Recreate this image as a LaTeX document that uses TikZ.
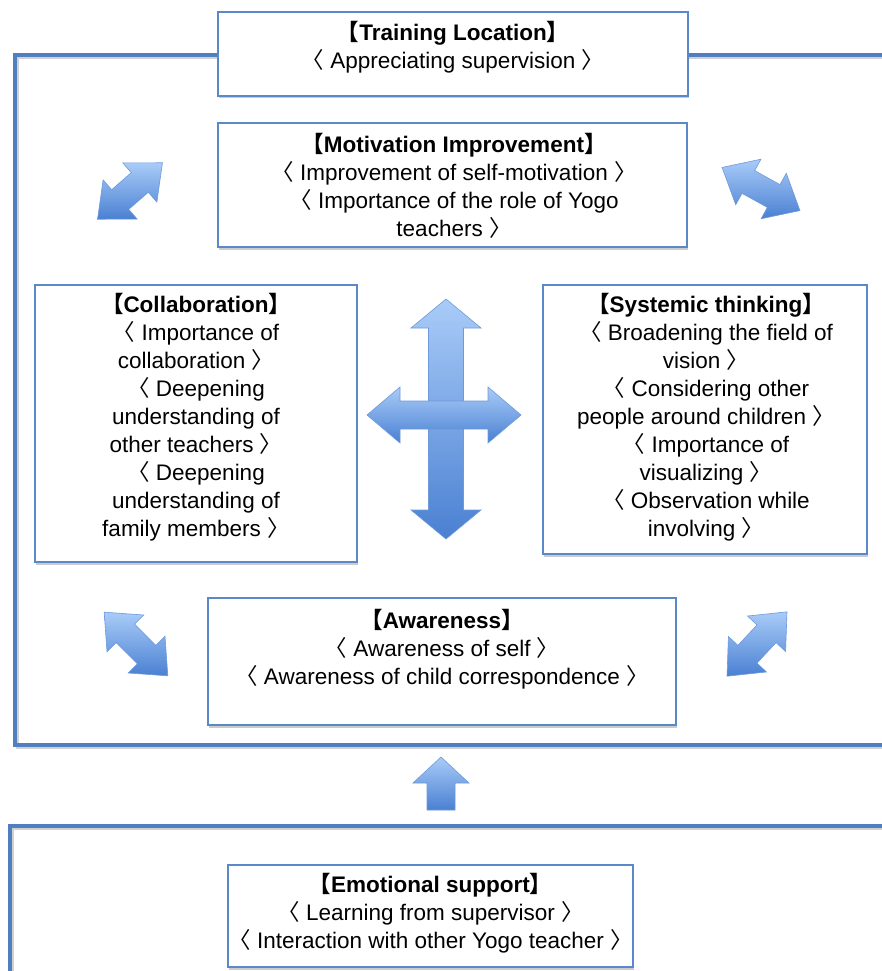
\documentclass[tikz,border=0pt]{standalone}
\usepackage{fontspec}
\setmainfont{Liberation Sans}
\newfontfamily\cjk{Noto Sans CJK SC}
\usetikzlibrary{shadows}
\definecolor{eblue}{HTML}{4F7FC0}
\definecolor{boxblue}{HTML}{5A88C8}
\definecolor{arrlight}{HTML}{A9CCF8}
\definecolor{arrdark}{HTML}{4A80D2}
\newcommand{\lb}{{\cjk 【}}
\newcommand{\rb}{{\cjk 】}}
\newcommand{\la}{{\cjk 〈}}
\newcommand{\ra}{{\cjk 〉}}
\tikzset{eframe/.style={line width=3.5pt,eblue},
  eshadow/.style={line width=3pt,black!18},
  ebox/.style={draw=boxblue,line width=1.2pt,fill=white,
    drop shadow={shadow xshift=1pt,shadow yshift=-2.5pt,fill=black!40,opacity=0.5}},
  etext/.style={align=center,inner sep=0pt,font=\fontsize{22.5}{28}\selectfont},
  earrow/.style={draw=arrdark!80,line width=0.6pt,top color=arrlight,bottom color=arrdark}}
% center, angle, length, head width, shaft width, head length
\newcommand{\darrow}[6]{%
  \begin{scope}[shift={#1},rotate=#2]
    \shade[earrow] ({-#3/2},0) -- ({-#3/2+#6},{#4/2}) -- ({-#3/2+#6},{#5/2})
      -- ({#3/2-#6},{#5/2}) -- ({#3/2-#6},{#4/2}) -- ({#3/2},0)
      -- ({#3/2-#6},{-#4/2}) -- ({#3/2-#6},{-#5/2}) -- ({-#3/2+#6},{-#5/2})
      -- ({-#3/2+#6},{-#4/2}) -- cycle;
  \end{scope}}

\begin{document}
\begin{tikzpicture}[x=1pt,y=-1pt]
    \useasboundingbox[fill=white] (0,0) rectangle (882,971);
    % frames
    \draw[eshadow] (882,57.5) -- (17.5,57.5) -- (17.5,747.5) -- (882,747.5);
    \draw[eframe,line join=miter] (882,55) -- (15,55) -- (15,745) -- (882,745);
    \draw[eshadow] (882,828.5) -- (12.5,828.5) -- (12.5,971);
    \draw[eframe,line join=miter] (882,826) -- (10,826) -- (10,971);
    % boxes
    \node[ebox,minimum width=470pt,minimum height=84pt] (train) at (453,54) {};
    \node[etext] (traintxt) at (453,47) {\textbf{\lb Training Location\rb}\\ \la\ Appreciating supervision \ra};
    \node[ebox,minimum width=469pt,minimum height=124pt] (motiv) at (452.5,185) {};
    \node[etext] (motivtxt) at (454,186) {\textbf{\lb Motivation Improvement\rb}\\ \la\ Improvement of self-motivation \ra\\ \la\ Importance of the role of Yogo\\ teachers \ra};
    \node[ebox,minimum width=322pt,minimum height=277pt] (collab) at (196,423.5) {};
    \node[etext] (collabtxt) at (196,417) {\textbf{\lb Collaboration\rb}\\ \la\ Importance of\\ collaboration \ra\\ \la\ Deepening\\ understanding of\\ other teachers \ra\\ \la\ Deepening\\ understanding of\\ family members \ra};
    \node[ebox,minimum width=324pt,minimum height=269pt] (system) at (705,419.5) {};
    \node[etext] (systemtxt) at (706,417) {\textbf{\lb Systemic thinking\rb}\\ \la\ Broadening the field of\\ vision \ra\\ \la\ Considering other\\ people around children \ra\\ \la\ Importance of\\ visualizing \ra\\ \la\ Observation while\\ involving \ra};
    \node[ebox,minimum width=468pt,minimum height=127pt] (aware) at (442,661.5) {};
    \node[etext] (awaretxt) at (442,649) {\textbf{\lb Awareness\rb}\\ \la\ Awareness of self \ra\\ \la\ Awareness of child correspondence \ra};
    \node[ebox,minimum width=405pt,minimum height=102pt] (emo) at (430.5,916) {};
    \node[etext] (emotxt) at (430.5,913) {\textbf{\lb Emotional support\rb}\\ \la\ Learning from supervisor \ra\\ \la\ Interaction with other Yogo teacher \ra};
    % arrows
    \darrow{(130,191)}{41}{86}{52}{26}{30}
    \darrow{(761,189)}{-29}{89}{52}{26}{30}
    \darrow{(136,644)}{-45}{90}{52}{26}{30}
    \darrow{(757,644)}{47}{88}{52}{26}{30}
    \darrow{(446,419)}{90}{240}{70}{35}{29}
    \darrow{(444,415)}{0}{154}{56}{28}{33}
    \shade[earrow] (441,757) -- (469,783) -- (455,783) -- (455,810) -- (427,810) -- (427,783) -- (413,783) -- cycle;
\end{tikzpicture}
\end{document}
